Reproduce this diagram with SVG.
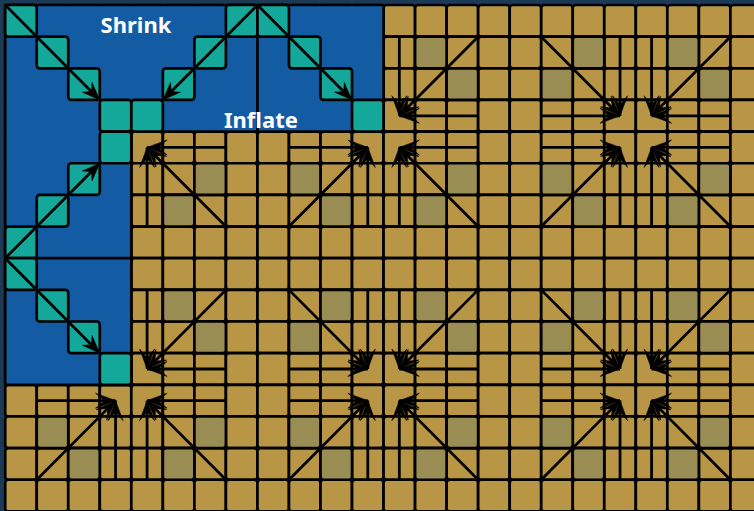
<svg xmlns="http://www.w3.org/2000/svg" xmlns:xlink="http://www.w3.org/1999/xlink" width="754" height="511" viewBox="0 0 754 511">
<style>
.c{stroke:#000;stroke-width:2.7}
.g{fill:#b89645}
.y{fill:#9a8d54}
.t{fill:#13a899}
.a{stroke:#000;stroke-width:2.8;fill:none}
.f{marker-end:url(#hf)}
.s{marker-end:url(#hs)}
text{font-family:"Noto Sans","Open Sans",sans-serif;font-weight:700;font-size:22px;fill:#fff;text-anchor:middle}
</style>
<defs>
<marker id="hf" markerUnits="userSpaceOnUse" markerWidth="22" markerHeight="16" refX="20" refY="7.5" orient="auto" overflow="visible"><path d="M20 7.5L0 0L9 7.5L0 15Z" fill="#000" stroke="#000" stroke-width=".6"/></marker>
<marker id="hs" markerUnits="userSpaceOnUse" markerWidth="19" markerHeight="16" refX="18" refY="7" orient="auto" overflow="visible"><path d="M18 7L0 0L6 7L0 14Z" fill="#000" stroke="#000" stroke-width=".4"/></marker>
<rect id="cell" class="c" width="31.53" height="31.65" rx="3"/>
<g id="row" class="g">
<use href="#cell" x="5.2"/><use href="#cell" x="36.73"/><use href="#cell" x="68.26"/><use href="#cell" x="99.79"/><use href="#cell" x="131.32"/><use href="#cell" x="162.85"/><use href="#cell" x="194.38"/><use href="#cell" x="225.91"/><use href="#cell" x="257.44"/><use href="#cell" x="288.97"/><use href="#cell" x="320.5"/><use href="#cell" x="352.03"/><use href="#cell" x="383.56"/><use href="#cell" x="415.09"/><use href="#cell" x="446.62"/><use href="#cell" x="478.15"/><use href="#cell" x="509.68"/><use href="#cell" x="541.21"/><use href="#cell" x="572.74"/><use href="#cell" x="604.27"/><use href="#cell" x="635.8"/><use href="#cell" x="667.33"/><use href="#cell" x="698.86"/><use href="#cell" x="730.39"/>
</g>
<g id="fan">
<path class="a f" d="M78.82 0L0 0"/>
<path class="a f" d="M0 79.1L0 0"/>
<path class="a f" d="M78.82 79.1L0 0"/>
</g>
</defs>
<rect id="background" width="754" height="511" fill="#1c3a56"/>
<g id="gold-grid">
<use href="#row" y="5"/><use href="#row" y="36.65"/><use href="#row" y="68.3"/><use href="#row" y="99.95"/><use href="#row" y="131.6"/><use href="#row" y="163.25"/><use href="#row" y="194.9"/><use href="#row" y="226.55"/><use href="#row" y="258.2"/><use href="#row" y="289.85"/><use href="#row" y="321.5"/><use href="#row" y="353.15"/><use href="#row" y="384.8"/><use href="#row" y="416.45"/><use href="#row" y="448.1"/><use href="#row" y="479.75"/>
</g>
<g id="gray-cells" class="y">
<use href="#cell" x="194.38" y="163.25"/><use href="#cell" x="162.85" y="194.9"/>
<use href="#cell" x="288.97" y="163.25"/><use href="#cell" x="320.5" y="194.9"/>
<use href="#cell" x="446.62" y="68.3"/><use href="#cell" x="415.09" y="36.65"/>
<use href="#cell" x="446.62" y="163.25"/><use href="#cell" x="415.09" y="194.9"/>
<use href="#cell" x="541.21" y="68.3"/><use href="#cell" x="572.74" y="36.65"/>
<use href="#cell" x="541.21" y="163.25"/><use href="#cell" x="572.74" y="194.9"/>
<use href="#cell" x="698.86" y="68.3"/><use href="#cell" x="667.33" y="36.65"/>
<use href="#cell" x="698.86" y="163.25"/><use href="#cell" x="667.33" y="194.9"/>
<use href="#cell" x="194.38" y="321.5"/><use href="#cell" x="162.85" y="289.85"/>
<use href="#cell" x="36.73" y="416.45"/><use href="#cell" x="68.26" y="448.1"/>
<use href="#cell" x="194.38" y="416.45"/><use href="#cell" x="162.85" y="448.1"/>
<use href="#cell" x="288.97" y="321.5"/><use href="#cell" x="320.5" y="289.85"/>
<use href="#cell" x="446.62" y="321.5"/><use href="#cell" x="415.09" y="289.85"/>
<use href="#cell" x="288.97" y="416.45"/><use href="#cell" x="320.5" y="448.1"/>
<use href="#cell" x="446.62" y="416.45"/><use href="#cell" x="415.09" y="448.1"/>
<use href="#cell" x="541.21" y="321.5"/><use href="#cell" x="572.74" y="289.85"/>
<use href="#cell" x="698.86" y="321.5"/><use href="#cell" x="667.33" y="289.85"/>
<use href="#cell" x="541.21" y="416.45"/><use href="#cell" x="572.74" y="448.1"/>
<use href="#cell" x="698.86" y="416.45"/><use href="#cell" x="667.33" y="448.1"/>
</g>
<g id="blue-region">
<path d="M5.2 5H383.56V131.6H131.32V384.8H5.2Z" fill="#135ca4" stroke="#000" stroke-width="2.7" stroke-linejoin="round"/>
<path d="M257.44 5V131.6M5.2 258.2H131.32" fill="none" stroke="#000" stroke-width="2.7"/>
</g>
<g id="teal-cells" class="t">
<use href="#cell" x="5.2" y="5"/><use href="#cell" x="36.73" y="36.65"/><use href="#cell" x="68.26" y="68.3"/>
<use href="#cell" x="99.79" y="99.95"/><use href="#cell" x="131.32" y="99.95"/><use href="#cell" x="99.79" y="131.6"/>
<use href="#cell" x="68.26" y="163.25"/><use href="#cell" x="36.73" y="194.9"/><use href="#cell" x="5.2" y="226.55"/>
<use href="#cell" x="225.91" y="5"/><use href="#cell" x="194.38" y="36.65"/><use href="#cell" x="162.85" y="68.3"/>
<use href="#cell" x="257.44" y="5"/><use href="#cell" x="288.97" y="36.65"/><use href="#cell" x="320.5" y="68.3"/><use href="#cell" x="352.03" y="99.95"/>
<use href="#cell" x="5.2" y="258.2"/><use href="#cell" x="36.73" y="289.85"/><use href="#cell" x="68.26" y="321.5"/><use href="#cell" x="99.79" y="353.15"/>
</g>
<g id="connectors">
<path class="a s" d="M5.2 5L99.79 99.95"/>
<path class="a s" d="M257.44 5L162.85 99.95"/>
<path class="a s" d="M257.44 5L352.03 99.95"/>
<path class="a s" d="M5.2 258.2L99.79 163.25"/>
<path class="a s" d="M5.2 258.2L99.79 353.15"/>
<use href="#fan" transform="translate(147.09 147.43)"/>
<use href="#fan" transform="translate(367.8 147.43) scale(-1 1)"/>
<use href="#fan" transform="translate(399.33 115.78) scale(1 -1)"/>
<use href="#fan" transform="translate(399.33 147.43)"/>
<use href="#fan" transform="translate(620.04 115.78) scale(-1 -1)"/>
<use href="#fan" transform="translate(620.04 147.43) scale(-1 1)"/>
<use href="#fan" transform="translate(651.57 115.78) scale(1 -1)"/>
<use href="#fan" transform="translate(651.57 147.43)"/>
<use href="#fan" transform="translate(147.09 368.98) scale(1 -1)"/>
<use href="#fan" transform="translate(115.56 400.63) scale(-1 1)"/>
<use href="#fan" transform="translate(147.09 400.63)"/>
<use href="#fan" transform="translate(367.8 368.98) scale(-1 -1)"/>
<use href="#fan" transform="translate(399.33 368.98) scale(1 -1)"/>
<use href="#fan" transform="translate(367.8 400.63) scale(-1 1)"/>
<use href="#fan" transform="translate(399.33 400.63)"/>
<use href="#fan" transform="translate(620.04 368.98) scale(-1 -1)"/>
<use href="#fan" transform="translate(651.57 368.98) scale(1 -1)"/>
<use href="#fan" transform="translate(620.04 400.63) scale(-1 1)"/>
<use href="#fan" transform="translate(651.57 400.63)"/>
</g>
<text id="label-shrink" x="136" y="33">Shrink</text>
<text id="label-inflate" x="261" y="128">Inflate</text>
</svg>
